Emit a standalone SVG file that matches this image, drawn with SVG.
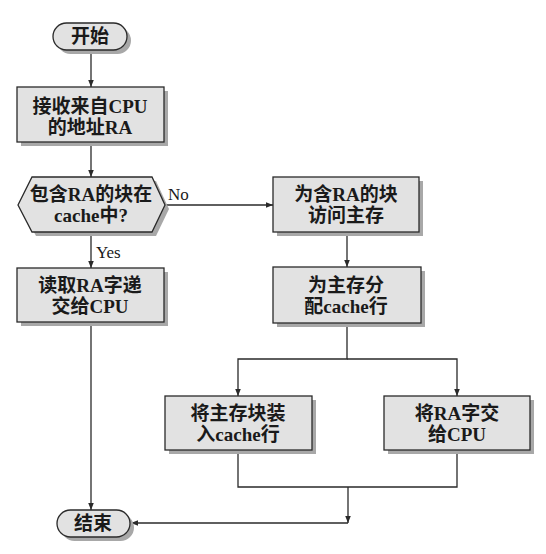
<svg xmlns="http://www.w3.org/2000/svg" width="546" height="554" viewBox="0 0 546 554">
<defs>
<style>
.box{fill:#e2e2e2;stroke:#2a2a2a;stroke-width:1.3}
.sh{fill:#a8a8a8}
.t{font-family:"Liberation Serif","Noto Sans CJK SC",serif;font-size:19px;font-weight:bold;fill:#1a1a1a;text-anchor:middle}
.lbl{font-family:"Liberation Serif",serif;font-size:17px;fill:#1a1a1a}
.ln{fill:none;stroke:#2a2a2a;stroke-width:1.3}
</style>
<marker id="ah" viewBox="0 0 10 10" refX="10" refY="5" markerWidth="7" markerHeight="7" orient="auto" markerUnits="userSpaceOnUse">
<path d="M0,1 L10,5 L0,9 z" fill="#2a2a2a"/>
</marker>
</defs>
<rect width="546" height="554" fill="#ffffff"/>
<g id="connectors">
<line class="ln" x1="91" y1="50" x2="91" y2="87" marker-end="url(#ah)"/>
<line class="ln" x1="91" y1="142" x2="91" y2="177" marker-end="url(#ah)"/>
<line class="ln" x1="165" y1="205" x2="273" y2="205" marker-end="url(#ah)"/>
<line class="ln" x1="91" y1="232" x2="91" y2="268" marker-end="url(#ah)"/>
<line class="ln" x1="91" y1="322" x2="91" y2="510" marker-end="url(#ah)"/>
<line class="ln" x1="347" y1="232" x2="347" y2="267" marker-end="url(#ah)"/>
<polyline class="ln" points="347,323 347,359 238,359 238,396" marker-end="url(#ah)"/>
<polyline class="ln" points="347,359 457,359 457,396" marker-end="url(#ah)"/>
<polyline class="ln" points="238,450 238,487 457,487 457,450"/>
<line class="ln" x1="348" y1="487" x2="348" y2="523" marker-end="url(#ah)"/>
<line class="ln" x1="348" y1="523" x2="131" y2="523" marker-end="url(#ah)"/>
<text class="lbl" x="168" y="200">No</text>
<text class="lbl" x="96" y="258">Yes</text>
</g>
<g id="start">
<rect class="sh" x="57" y="27" width="74" height="27" rx="13.5"/>
<rect class="box" x="53" y="23" width="74" height="27" rx="13.5"/>
<text class="t" x="90" y="43">开始</text>
</g>
<g id="receive">
<rect class="sh" x="21" y="91" width="147" height="55"/>
<rect class="box" x="17" y="87" width="147" height="55"/>
<text class="t" x="90" y="113">接收来自CPU</text>
<text class="t" x="90" y="134">的地址RA</text>
</g>
<g id="decision">
<polygon class="sh" points="36,181 156,181 169,209 156,236 36,236 22,209"/>
<polygon class="box" points="32,177 152,177 165,205 152,232 32,232 18,205"/>
<text class="t" x="91" y="201">包含RA的块在</text>
<text class="t" x="91" y="222">cache中?</text>
</g>
<g id="read">
<rect class="sh" x="21" y="272" width="147" height="54"/>
<rect class="box" x="17" y="268" width="147" height="54"/>
<text class="t" x="90" y="292">读取RA字递</text>
<text class="t" x="90" y="313">交给CPU</text>
</g>
<g id="access">
<rect class="sh" x="277" y="181" width="146" height="55"/>
<rect class="box" x="273" y="177" width="146" height="55"/>
<text class="t" x="346" y="201">为含RA的块</text>
<text class="t" x="346" y="222">访问主存</text>
</g>
<g id="alloc">
<rect class="sh" x="277" y="271" width="148" height="56"/>
<rect class="box" x="273" y="267" width="148" height="56"/>
<text class="t" x="346" y="292">为主存分</text>
<text class="t" x="346" y="313">配cache行</text>
</g>
<g id="load">
<rect class="sh" x="169" y="400" width="147" height="54"/>
<rect class="box" x="165" y="396" width="147" height="54"/>
<text class="t" x="238" y="420">将主存块装</text>
<text class="t" x="238" y="441">入cache行</text>
</g>
<g id="deliver">
<rect class="sh" x="388" y="400" width="146" height="54"/>
<rect class="box" x="384" y="396" width="146" height="54"/>
<text class="t" x="457" y="420">将RA字交</text>
<text class="t" x="457" y="441">给CPU</text>
</g>
<g id="end">
<rect class="sh" x="61" y="514" width="73" height="27" rx="13.5"/>
<rect class="box" x="57" y="510" width="73" height="27" rx="13.5"/>
<text class="t" x="93" y="530">结束</text>
</g>
</svg>
